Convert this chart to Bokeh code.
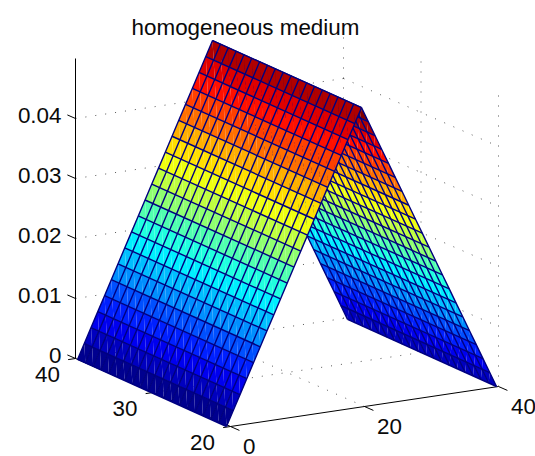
import numpy as np
from bokeh.plotting import figure
from bokeh.models import Range1d
from bokeh.core.properties import value
from bokeh.embed import file_html
from bokeh.resources import INLINE

title_text = "homogeneous medium"
x_grid = list(range(0, 41))
y_grid = list(range(20, 40))
z_profile = [0.0, 0.00248, 0.00496, 0.00744, 0.00992, 0.0124, 0.01488, 0.01736, 0.01984, 0.02232,
             0.0248, 0.02728, 0.02976, 0.03224, 0.03472, 0.0372, 0.03968, 0.04216, 0.04464, 0.04712,
             0.0496,
             0.04712, 0.04464, 0.04216, 0.03968, 0.0372, 0.03472, 0.03224, 0.02976, 0.02728, 0.0248,
             0.02232, 0.01984, 0.01736, 0.01488, 0.0124, 0.00992, 0.00744, 0.00496, 0.00248, 0.0]
x_ticks = [0, 20, 40]
y_ticks = [20, 30, 40]
z_ticks = [0, 0.01, 0.02, 0.03, 0.04]
z_tick_labels = ["0", "0.01", "0.02", "0.03", "0.04"]
z_limit = 0.05
# highest visible reach of the vertical grid lines on the x=40 wall
wall_tops = {40: 0.0475, 30: 0.0487, 20: 0.0490}

W, H = 535, 456
FONT = "Liberation Sans"
FS = "22.4px"


def surf_px(x, y, z):
    x, y, z = np.asarray(x, float), np.asarray(y, float), np.asarray(z, float)
    return 226 + 6.75 * x - 7.84 * (y - 20), 426 - 1.0 * x - 3.53 * (y - 20) - 6025 * z


def box_px(x, y, z):
    x, y, z = np.asarray(x, float), np.asarray(y, float), np.asarray(z, float)
    return 230 + 6.7 * x - 7.75 * (y - 20), 426 - 1.0 * x - 3.4 * (y - 20) - 6000 * z


def seg(fn, a, b):
    xa, ya = fn(*a)
    xb, yb = fn(*b)
    return [float(xa), float(xb)], [float(ya), float(yb)]


def jet(v):
    i = min(int(v * 64), 63)
    t = (i + 1) / 64
    c = [np.clip(1.5 - abs(4 * t - k), 0, 1) for k in (3, 2, 1)]
    return "#%02x%02x%02x" % tuple(int(round(255 * a)) for a in c)


p = figure(width=W, height=H, x_range=Range1d(0, W), y_range=Range1d(H, 0),
           output_backend="svg", toolbar_location=None, min_border=0)
p.axis.visible = False
p.grid.visible = False
p.outline_line_color = None
p.background_fill_color = "white"

# dotted grid on the walls and floor
gx, gy = [], []
def add_grid(a, b):
    s = seg(box_px, a, b)
    gx.append(s[0]); gy.append(s[1])

xlo, xhi = x_ticks[0], x_ticks[-1]
ylo, yhi = y_ticks[0], y_ticks[-1]
for z in z_ticks[1:]:
    add_grid((xlo, yhi, z), (xhi, yhi, z))
    add_grid((xhi, yhi, z), (xhi, ylo, z))
for y in y_ticks:
    add_grid((xhi, y, 0), (xhi, y, wall_tops[y]))
add_grid((x_ticks[1], yhi, 0), (x_ticks[1], yhi, z_limit))
add_grid((xlo, y_ticks[1], 0), (xhi, y_ticks[1], 0))
add_grid((x_ticks[1], ylo, 0), (x_ticks[1], yhi, 0))
add_grid((xlo, yhi, 0), (xhi, yhi, 0))
p.multi_line(gx, gy, line_color="#222222", line_width=1, line_dash="1 9", line_alpha=0.75)

# axis lines and ticks
ax, ay = [], []
def add_axis(a, b):
    s = seg(box_px, a, b)
    ax.append(s[0]); ay.append(s[1])

add_axis((xlo, yhi, 0), (xlo, yhi, z_limit))
add_axis((xlo, ylo, 0), (xhi, ylo, 0))
add_axis((xlo, ylo, 0), (xlo, yhi, 0))
for z in z_ticks:
    add_axis((xlo, yhi, z), (xlo, yhi + 1.05, z))
for x in x_ticks:
    add_axis((x, ylo, 0), (x, ylo - 1.15, 0))
for y in y_ticks:
    add_axis((xlo, y, 0), (xlo - 1.1, y, 0))
p.multi_line(ax, ay, line_color="black", line_width=1)

# surface: far slope first, then the near slope that hides part of it
def draw_slope(columns):
    tx, ty, colors = [], [], []
    for i in columns:
        col = jet(z_profile[i] / max(z_profile))
        for j in range(len(y_grid) - 1):
            x0, x1 = x_grid[i], x_grid[i + 1]
            y0, y1 = y_grid[j], y_grid[j + 1]
            z0, z1 = z_profile[i], z_profile[i + 1]
            ax_, ay_ = surf_px(x0, y0, z0)
            bx_, by_ = surf_px(x1, y0, z1)
            cx_, cy_ = surf_px(x1, y1, z1)
            dx_, dy_ = surf_px(x0, y1, z0)
            tx += [[float(ax_), float(bx_), float(cx_)], [float(ax_), float(cx_), float(dx_)]]
            ty += [[float(ay_), float(by_), float(cy_)], [float(ay_), float(cy_), float(dy_)]]
            colors += [col, col]
    p.patches(tx, ty, fill_color=colors, line_color=None)
    ex, ey = [], []
    for i in list(columns) + [columns[-1] + 1]:
        a = surf_px(x_grid[i], y_grid[0], z_profile[i])
        b = surf_px(x_grid[i], y_grid[-1], z_profile[i])
        ex.append([float(a[0]), float(b[0])]); ey.append([float(a[1]), float(b[1])])
    for y in y_grid:
        idx = list(columns) + [columns[-1] + 1]
        xs, ys = surf_px([x_grid[i] for i in idx], [y] * len(idx), [z_profile[i] for i in idx])
        ex.append(xs.tolist()); ey.append(ys.tolist())
    p.multi_line(ex, ey, line_color="#00007f", line_width=1.4)

ridge = z_profile.index(max(z_profile))
draw_slope(list(range(ridge, len(x_grid) - 1)))
draw_slope(list(range(0, ridge)))

# texts
def put(x, y, s, align, baseline="middle", size=FS):
    p.text([float(x)], [float(y)], text=[s], text_font=value(FONT), text_font_size=size,
           text_align=align, text_baseline=baseline, text_color="#0a0a0a")

for z, s in zip(z_ticks, z_tick_labels):
    qx, qy = box_px(xlo, yhi, z)
    put(61, qy - 3.5, s, "right")
for y in y_ticks:
    qx, qy = box_px(xlo, y, 0)
    put(qx - 15.5, qy + 16, str(y), "right")
for x in x_ticks:
    qx, qy = box_px(x, ylo, 0)
    put(qx + 12.5, qy + 20, str(x), "left")
put(245, 27, title_text, "center", "alphabetic", "22.4px")

open("out.html", "w").write(file_html(p, INLINE))
